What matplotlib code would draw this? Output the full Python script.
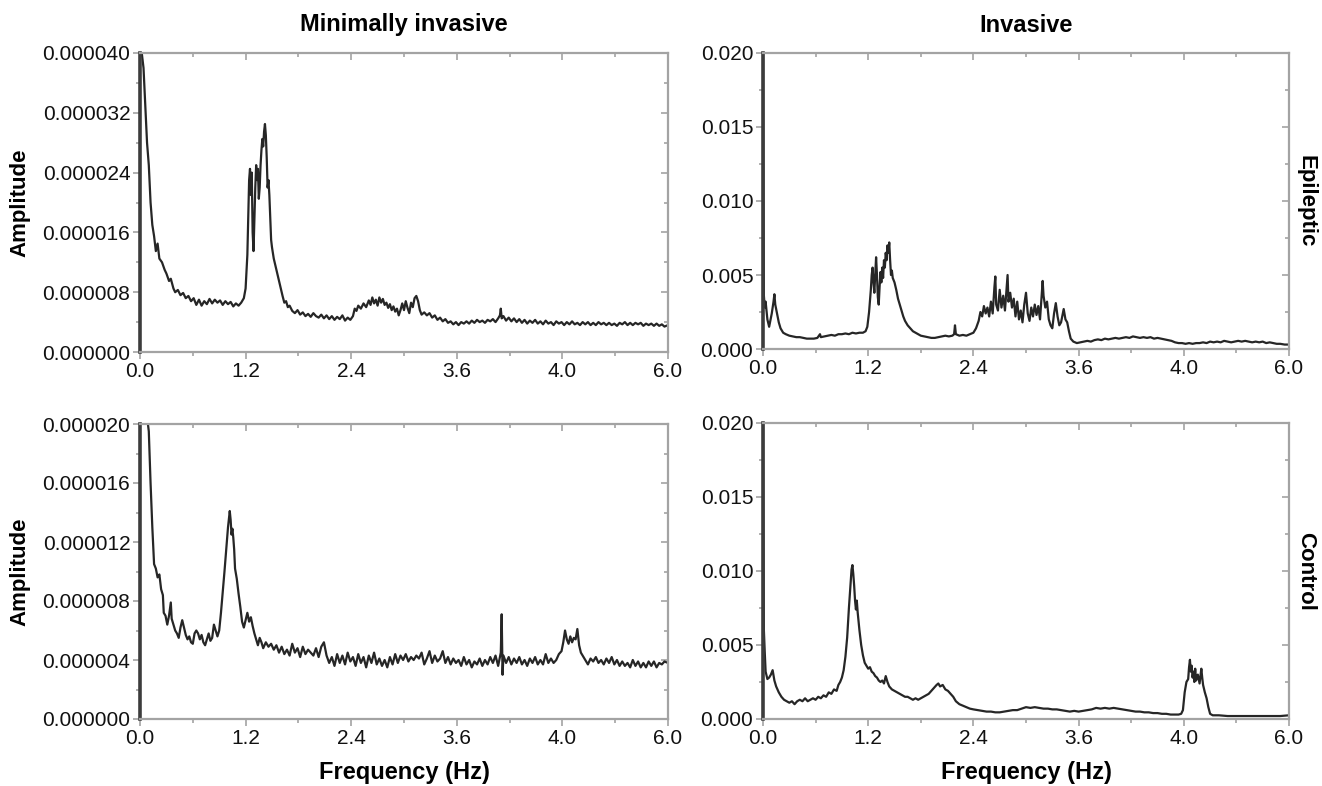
import matplotlib
matplotlib.use("Agg")
import matplotlib.pyplot as plt
import numpy as np
from matplotlib.ticker import FormatStrFormatter

plt.rcParams["font.family"] = ["Liberation Sans", "DejaVu Sans"]

# x tick positions / labels as printed on the original figure
X_TICKS = [0.0, 1.2, 2.4, 3.6, 4.8, 6.0]
X_TICK_LABELS = ["0.0", "1.2", "2.4", "3.6", "4.0", "6.0"]
X_MINOR = [0.6, 1.8, 3.0, 4.2, 5.4]

COL_TITLES = ["Minimally invasive", "Invasive"]
ROW_TITLES = ["Epileptic", "Control"]

# Minimally invasive, epileptic (amplitude x 1e-6)
mi_epi = [
    (0.00, 45), (0.02, 40), (0.04, 38), (0.06, 33), (0.08, 28), (0.10, 25), (0.12, 20), (0.14, 17),
    (0.16, 15.5), (0.18, 13.5), (0.20, 14.5), (0.22, 12.5), (0.25, 12.0), (0.28, 11.0), (0.30, 10.5),
    (0.33, 9.5), (0.35, 9.8), (0.38, 8.5), (0.40, 8.0), (0.43, 8.3), (0.46, 7.6), (0.49, 7.9), (0.52, 7.2),
    (0.55, 7.5), (0.58, 6.8), (0.61, 7.2), (0.64, 6.3), (0.67, 7.0), (0.70, 6.2), (0.73, 6.8), (0.76, 6.4),
    (0.79, 7.1), (0.82, 6.5), (0.85, 7.0), (0.88, 6.6), (0.91, 6.9), (0.94, 6.3), (0.97, 6.8), (1.00, 6.4),
    (1.03, 6.7), (1.06, 6.1), (1.09, 6.5), (1.12, 6.2), (1.15, 6.6), (1.18, 7.2), (1.20, 8.5), (1.22, 13),
    (1.23, 18), (1.24, 23), (1.25, 24.5), (1.26, 21), (1.27, 24), (1.28, 16), (1.29, 13.5), (1.30, 18),
    (1.31, 22), (1.32, 25), (1.33, 23), (1.34, 24.5), (1.35, 20.5), (1.36, 22), (1.37, 25), (1.38, 27),
    (1.39, 28.5), (1.40, 27.5), (1.41, 29.5), (1.42, 30.5), (1.43, 29), (1.44, 26), (1.45, 22), (1.46, 23),
    (1.47, 21), (1.48, 18), (1.49, 15), (1.50, 14), (1.52, 12.5), (1.54, 11.5), (1.56, 10.5), (1.58, 9.5),
    (1.60, 8.5), (1.62, 7.5), (1.64, 6.6), (1.66, 6.8), (1.68, 6.0), (1.70, 6.2), (1.73, 5.5), (1.76, 5.2),
    (1.79, 5.6), (1.82, 5.0), (1.85, 5.3), (1.88, 4.8), (1.91, 5.1), (1.94, 4.7), (1.97, 5.2), (2.00, 4.8),
    (2.03, 4.6), (2.06, 5.0), (2.09, 4.5), (2.12, 4.9), (2.15, 4.4), (2.18, 4.8), (2.21, 4.3), (2.24, 4.7),
    (2.27, 4.4), (2.30, 4.9), (2.33, 4.2), (2.36, 4.6), (2.39, 4.3), (2.42, 4.8), (2.44, 5.8), (2.46, 5.5),
    (2.48, 6.2), (2.51, 5.8), (2.54, 6.5), (2.57, 6.0), (2.60, 6.9), (2.62, 6.3), (2.64, 7.3), (2.66, 6.5),
    (2.68, 7.0), (2.70, 6.2), (2.72, 7.3), (2.74, 6.6), (2.76, 7.1), (2.78, 6.3), (2.80, 6.6), (2.82, 5.9),
    (2.84, 6.4), (2.86, 5.6), (2.88, 6.1), (2.90, 5.4), (2.92, 5.8), (2.94, 4.9), (2.96, 5.6), (2.98, 6.5),
    (3.00, 5.6), (3.02, 6.8), (3.04, 5.9), (3.06, 5.2), (3.08, 6.6), (3.10, 6.0), (3.12, 7.2), (3.14, 7.5),
    (3.16, 6.8), (3.18, 5.6), (3.20, 5.0), (3.23, 5.3), (3.26, 4.9), (3.29, 5.2), (3.32, 4.6), (3.35, 4.9),
    (3.38, 4.3), (3.41, 4.6), (3.44, 4.1), (3.47, 4.4), (3.50, 3.9), (3.53, 4.1), (3.56, 3.7), (3.59, 4.0),
    (3.62, 3.6), (3.65, 4.0), (3.68, 3.8), (3.71, 4.1), (3.74, 3.8), (3.77, 4.2), (3.80, 3.9), (3.83, 4.3),
    (3.86, 4.0), (3.89, 4.2), (3.92, 3.9), (3.95, 4.3), (3.98, 4.1), (4.01, 4.4), (4.04, 4.0), (4.07, 4.5),
    (4.09, 4.9), (4.10, 5.8), (4.11, 4.5), (4.13, 4.8), (4.16, 4.2), (4.19, 4.6), (4.22, 4.1), (4.25, 4.5),
    (4.28, 4.0), (4.31, 4.4), (4.34, 3.9), (4.37, 4.3), (4.40, 3.8), (4.43, 4.2), (4.46, 3.9), (4.49, 4.3),
    (4.52, 3.8), (4.55, 4.1), (4.58, 3.7), (4.61, 4.2), (4.64, 3.8), (4.67, 4.0), (4.70, 3.6), (4.73, 4.1),
    (4.76, 3.8), (4.79, 4.0), (4.82, 3.6), (4.85, 4.0), (4.88, 3.7), (4.91, 4.1), (4.94, 3.7), (4.97, 3.9),
    (5.00, 3.6), (5.03, 4.0), (5.06, 3.7), (5.09, 4.0), (5.12, 3.6), (5.15, 3.9), (5.18, 3.6), (5.21, 4.0),
    (5.24, 3.7), (5.27, 3.9), (5.30, 3.6), (5.33, 3.9), (5.36, 3.6), (5.39, 3.8), (5.42, 3.5), (5.45, 3.9),
    (5.48, 3.7), (5.51, 4.0), (5.54, 3.6), (5.57, 3.9), (5.60, 3.6), (5.63, 3.9), (5.66, 3.7), (5.69, 3.9),
    (5.72, 3.5), (5.75, 3.8), (5.78, 3.6), (5.81, 3.8), (5.84, 3.5), (5.87, 3.8), (5.90, 3.5), (5.93, 3.7),
    (5.96, 3.4), (6.00, 3.6),
]

# Invasive, epileptic (amplitude x 1e-3)
inv_epi = [
    (0.00, 22), (0.01, 3.6), (0.02, 2.8), (0.03, 3.2), (0.05, 2.0), (0.07, 1.5), (0.08, 1.8), (0.10, 2.4),
    (0.12, 3.2), (0.13, 3.7), (0.14, 3.0), (0.16, 2.4), (0.18, 1.8), (0.20, 1.4), (0.23, 1.1), (0.26, 1.0),
    (0.30, 0.9), (0.34, 0.85), (0.38, 0.8), (0.42, 0.8), (0.46, 0.75), (0.50, 0.7), (0.54, 0.7), (0.58, 0.7),
    (0.62, 0.75), (0.65, 1.0), (0.66, 0.8), (0.70, 0.85), (0.74, 0.9), (0.78, 0.95), (0.82, 0.9), (0.86, 1.0),
    (0.90, 1.0), (0.94, 1.05), (0.98, 1.0), (1.02, 1.1), (1.06, 1.05), (1.10, 1.1), (1.14, 1.1), (1.17, 1.2),
    (1.19, 1.5), (1.21, 2.5), (1.23, 4.0), (1.24, 5.0), (1.25, 5.5), (1.26, 4.5), (1.27, 3.8), (1.28, 5.0),
    (1.29, 6.2), (1.30, 5.0), (1.31, 3.5), (1.32, 3.0), (1.33, 4.2), (1.34, 5.2), (1.35, 4.5), (1.36, 5.5),
    (1.37, 4.8), (1.38, 6.0), (1.39, 5.5), (1.40, 6.5), (1.41, 6.0), (1.42, 7.0), (1.43, 6.5), (1.44, 7.2),
    (1.45, 6.0), (1.46, 5.0), (1.47, 5.3), (1.48, 4.8), (1.50, 4.5), (1.52, 4.0), (1.54, 3.4), (1.56, 3.0),
    (1.58, 2.6), (1.60, 2.2), (1.62, 1.9), (1.65, 1.6), (1.68, 1.4), (1.71, 1.2), (1.74, 1.1), (1.77, 1.0),
    (1.80, 0.9), (1.84, 0.85), (1.88, 0.8), (1.92, 0.75), (1.96, 0.75), (2.00, 0.8), (2.04, 0.85), (2.08, 0.9),
    (2.12, 0.85), (2.16, 0.9), (2.18, 1.0), (2.19, 1.6), (2.20, 1.0), (2.24, 0.9), (2.28, 0.95), (2.32, 0.9),
    (2.36, 1.0), (2.40, 1.1), (2.43, 1.4), (2.46, 1.9), (2.48, 2.5), (2.50, 2.2), (2.52, 2.9), (2.54, 2.4),
    (2.56, 2.8), (2.58, 2.2), (2.60, 3.2), (2.62, 2.4), (2.64, 4.2), (2.65, 4.9), (2.66, 3.0), (2.68, 2.6),
    (2.70, 4.0), (2.72, 2.8), (2.74, 3.6), (2.76, 2.6), (2.78, 4.2), (2.79, 5.0), (2.80, 3.2), (2.82, 3.8),
    (2.84, 2.8), (2.86, 3.4), (2.88, 2.2), (2.90, 3.2), (2.92, 2.0), (2.94, 2.6), (2.96, 1.8), (2.98, 3.0),
    (3.00, 3.8), (3.02, 2.4), (3.04, 1.9), (3.06, 2.8), (3.08, 2.2), (3.10, 3.0), (3.12, 2.3), (3.14, 2.9),
    (3.16, 2.0), (3.18, 3.8), (3.19, 4.6), (3.20, 3.6), (3.22, 2.8), (3.24, 3.2), (3.26, 2.0), (3.28, 1.6),
    (3.30, 1.4), (3.32, 2.4), (3.34, 3.1), (3.36, 2.2), (3.38, 1.6), (3.40, 1.8), (3.42, 2.4), (3.43, 2.7),
    (3.45, 2.0), (3.47, 1.8), (3.49, 1.2), (3.51, 0.7), (3.54, 0.5), (3.58, 0.4), (3.62, 0.45), (3.66, 0.5),
    (3.70, 0.55), (3.74, 0.5), (3.78, 0.6), (3.82, 0.65), (3.86, 0.6), (3.90, 0.7), (3.94, 0.65), (3.98, 0.7),
    (4.02, 0.75), (4.06, 0.7), (4.10, 0.75), (4.14, 0.8), (4.18, 0.75), (4.22, 0.85), (4.26, 0.8), (4.30, 0.75),
    (4.34, 0.8), (4.38, 0.75), (4.42, 0.8), (4.46, 0.7), (4.50, 0.75), (4.54, 0.7), (4.58, 0.65), (4.62, 0.6),
    (4.66, 0.55), (4.70, 0.45), (4.74, 0.4), (4.78, 0.4), (4.82, 0.35), (4.86, 0.4), (4.90, 0.35), (4.94, 0.4),
    (4.98, 0.4), (5.02, 0.45), (5.06, 0.4), (5.10, 0.5), (5.14, 0.45), (5.18, 0.5), (5.22, 0.45), (5.26, 0.55),
    (5.30, 0.5), (5.34, 0.45), (5.38, 0.5), (5.42, 0.55), (5.46, 0.5), (5.50, 0.55), (5.54, 0.5), (5.58, 0.45),
    (5.62, 0.5), (5.66, 0.45), (5.70, 0.5), (5.74, 0.4), (5.78, 0.45), (5.82, 0.4), (5.86, 0.35), (5.90, 0.35),
    (5.95, 0.3), (6.00, 0.3),
]

# Minimally invasive, control (amplitude x 1e-6)
mi_ctl = [
    (0.00, 22), (0.05, 21), (0.08, 20.5), (0.10, 19.5), (0.12, 16), (0.14, 13), (0.16, 10.5), (0.18, 10.2),
    (0.20, 9.6), (0.22, 9.8), (0.24, 8.8), (0.26, 8.4), (0.27, 7.2), (0.29, 7.0), (0.31, 6.4), (0.33, 7.0),
    (0.35, 7.9), (0.36, 6.8), (0.38, 6.4), (0.40, 6.0), (0.42, 5.8), (0.44, 5.5), (0.46, 6.2), (0.48, 6.7),
    (0.50, 6.2), (0.52, 5.7), (0.54, 5.4), (0.56, 5.6), (0.58, 5.2), (0.60, 5.1), (0.62, 5.8), (0.64, 6.0),
    (0.66, 5.8), (0.68, 5.4), (0.70, 5.7), (0.72, 5.2), (0.74, 5.0), (0.76, 5.4), (0.78, 5.8), (0.80, 5.3),
    (0.82, 5.5), (0.84, 6.4), (0.86, 6.0), (0.88, 5.6), (0.90, 6.0), (0.92, 7.2), (0.94, 8.6), (0.96, 10.0),
    (0.98, 11.5), (1.00, 13.0), (1.02, 14.1), (1.03, 13.5), (1.04, 12.5), (1.05, 12.9), (1.06, 12.3),
    (1.07, 11.5), (1.08, 10.2), (1.10, 9.5), (1.12, 8.5), (1.14, 7.6), (1.16, 6.6), (1.18, 6.2), (1.20, 6.7),
    (1.22, 7.2), (1.24, 6.6), (1.26, 6.9), (1.28, 6.3), (1.30, 5.8), (1.32, 5.4), (1.34, 5.0), (1.36, 5.5),
    (1.38, 5.2), (1.40, 4.8), (1.43, 5.2), (1.46, 4.9), (1.49, 5.1), (1.52, 4.7), (1.55, 5.0), (1.58, 4.5),
    (1.61, 4.9), (1.64, 4.4), (1.67, 4.7), (1.70, 4.3), (1.73, 5.1), (1.76, 4.5), (1.79, 4.8), (1.82, 4.2),
    (1.85, 4.9), (1.88, 4.4), (1.91, 4.7), (1.94, 4.5), (1.97, 4.3), (2.00, 4.8), (2.03, 4.2), (2.06, 4.9),
    (2.09, 5.2), (2.12, 4.3), (2.15, 3.8), (2.18, 4.2), (2.21, 3.6), (2.24, 4.4), (2.27, 3.8), (2.30, 4.3),
    (2.33, 3.7), (2.36, 4.5), (2.39, 3.9), (2.42, 4.2), (2.45, 3.6), (2.48, 4.4), (2.51, 3.8), (2.54, 4.2),
    (2.57, 3.5), (2.60, 4.3), (2.63, 3.8), (2.66, 4.5), (2.69, 3.7), (2.72, 4.1), (2.75, 3.6), (2.78, 4.0),
    (2.81, 3.5), (2.84, 4.2), (2.87, 3.7), (2.90, 4.4), (2.93, 3.8), (2.96, 4.3), (2.99, 4.0), (3.02, 4.4),
    (3.05, 3.9), (3.08, 4.2), (3.11, 4.0), (3.14, 4.3), (3.17, 4.1), (3.20, 4.5), (3.23, 3.7), (3.26, 4.1),
    (3.29, 4.6), (3.32, 3.8), (3.35, 4.3), (3.38, 3.9), (3.41, 4.1), (3.44, 4.6), (3.47, 3.8), (3.50, 4.2),
    (3.53, 3.7), (3.56, 4.1), (3.59, 3.8), (3.62, 4.0), (3.65, 3.6), (3.68, 4.2), (3.71, 3.7), (3.74, 4.0),
    (3.77, 3.5), (3.80, 3.9), (3.83, 3.7), (3.86, 4.1), (3.89, 3.6), (3.92, 4.0), (3.95, 3.7), (3.98, 4.2),
    (4.01, 3.8), (4.04, 4.3), (4.07, 3.6), (4.10, 4.5), (4.11, 7.1), (4.12, 3.0), (4.13, 4.3), (4.16, 3.8),
    (4.19, 4.2), (4.22, 3.7), (4.25, 4.1), (4.28, 3.8), (4.31, 4.2), (4.34, 3.7), (4.37, 4.0), (4.40, 3.6),
    (4.43, 4.1), (4.46, 3.8), (4.49, 4.2), (4.52, 3.7), (4.55, 4.0), (4.58, 3.7), (4.61, 4.4), (4.64, 3.8),
    (4.67, 4.1), (4.70, 3.8), (4.73, 4.0), (4.76, 4.4), (4.79, 4.6), (4.81, 5.2), (4.83, 6.0), (4.85, 5.4),
    (4.87, 5.1), (4.89, 5.6), (4.91, 5.2), (4.93, 5.5), (4.95, 5.4), (4.97, 6.1), (4.99, 5.0), (5.01, 4.5),
    (5.03, 4.3), (5.06, 4.0), (5.09, 3.7), (5.12, 4.1), (5.15, 3.9), (5.18, 4.2), (5.21, 3.8), (5.24, 4.0),
    (5.27, 3.7), (5.30, 4.1), (5.33, 3.8), (5.36, 4.2), (5.39, 3.7), (5.42, 4.0), (5.45, 3.6), (5.48, 3.9),
    (5.51, 3.6), (5.54, 3.8), (5.57, 3.5), (5.60, 4.0), (5.63, 3.6), (5.66, 3.9), (5.69, 3.5), (5.72, 3.8),
    (5.75, 3.5), (5.78, 3.9), (5.81, 3.6), (5.84, 3.9), (5.87, 3.5), (5.90, 3.8), (5.93, 3.7), (5.96, 3.9),
    (6.00, 3.8),
]

# Invasive, control (amplitude x 1e-3)
inv_ctl = [
    (0.00, 22), (0.01, 6.0), (0.02, 4.5), (0.03, 3.2), (0.05, 2.7), (0.07, 2.8), (0.09, 3.0), (0.11, 3.3),
    (0.13, 2.6), (0.15, 2.2), (0.18, 1.8), (0.21, 1.5), (0.24, 1.3), (0.27, 1.2), (0.30, 1.1), (0.33, 1.2),
    (0.36, 1.0), (0.39, 1.2), (0.42, 1.3), (0.45, 1.2), (0.48, 1.4), (0.51, 1.2), (0.54, 1.3), (0.57, 1.4),
    (0.60, 1.3), (0.63, 1.5), (0.66, 1.4), (0.69, 1.6), (0.72, 1.5), (0.75, 1.8), (0.78, 1.7), (0.81, 2.0),
    (0.84, 1.9), (0.86, 2.3), (0.88, 2.5), (0.90, 2.8), (0.92, 3.3), (0.94, 4.2), (0.96, 5.5), (0.98, 7.5),
    (1.00, 9.3), (1.01, 10.1), (1.02, 10.4), (1.03, 9.8), (1.04, 9.0), (1.05, 8.0), (1.06, 7.4), (1.07, 8.0),
    (1.08, 7.2), (1.10, 6.0), (1.12, 5.0), (1.14, 4.3), (1.16, 3.8), (1.18, 3.6), (1.20, 3.4), (1.22, 3.5),
    (1.24, 3.2), (1.26, 3.1), (1.28, 2.9), (1.30, 2.8), (1.32, 2.6), (1.34, 2.5), (1.36, 2.6), (1.38, 2.4),
    (1.40, 2.9), (1.42, 2.5), (1.44, 2.2), (1.47, 2.0), (1.50, 1.9), (1.53, 1.8), (1.56, 1.7), (1.59, 1.6),
    (1.62, 1.5), (1.65, 1.5), (1.68, 1.4), (1.71, 1.3), (1.74, 1.4), (1.77, 1.3), (1.80, 1.4), (1.83, 1.5),
    (1.86, 1.6), (1.89, 1.7), (1.92, 1.9), (1.95, 2.1), (1.98, 2.3), (2.00, 2.4), (2.02, 2.2), (2.05, 2.3),
    (2.08, 2.0), (2.11, 1.9), (2.14, 1.7), (2.17, 1.5), (2.20, 1.2), (2.24, 1.0), (2.28, 0.9), (2.32, 0.8),
    (2.36, 0.7), (2.40, 0.65), (2.45, 0.6), (2.50, 0.55), (2.55, 0.5), (2.60, 0.5), (2.65, 0.45), (2.70, 0.45),
    (2.75, 0.5), (2.80, 0.55), (2.85, 0.6), (2.90, 0.6), (2.95, 0.7), (3.00, 0.8), (3.05, 0.75), (3.10, 0.8),
    (3.15, 0.75), (3.20, 0.7), (3.25, 0.7), (3.30, 0.65), (3.35, 0.65), (3.40, 0.6), (3.45, 0.55), (3.50, 0.5),
    (3.55, 0.55), (3.60, 0.5), (3.65, 0.55), (3.70, 0.6), (3.75, 0.65), (3.80, 0.75), (3.85, 0.7), (3.90, 0.75),
    (3.95, 0.7), (4.00, 0.75), (4.05, 0.7), (4.10, 0.65), (4.15, 0.6), (4.20, 0.55), (4.25, 0.5), (4.30, 0.5),
    (4.35, 0.45), (4.40, 0.45), (4.45, 0.4), (4.50, 0.4), (4.55, 0.35), (4.60, 0.35), (4.65, 0.3), (4.70, 0.3),
    (4.74, 0.3), (4.77, 0.35), (4.79, 0.6), (4.81, 1.8), (4.83, 2.5), (4.85, 2.7), (4.86, 3.5), (4.87, 4.0),
    (4.88, 3.2), (4.89, 3.6), (4.90, 2.8), (4.91, 3.2), (4.92, 2.5), (4.93, 3.4), (4.94, 2.6), (4.96, 3.0),
    (4.98, 2.4), (5.00, 3.4), (5.01, 2.8), (5.02, 2.3), (5.04, 1.8), (5.06, 1.4), (5.08, 0.8), (5.10, 0.35),
    (5.13, 0.25), (5.20, 0.25), (5.30, 0.2), (5.40, 0.2), (5.50, 0.2), (5.60, 0.2), (5.70, 0.2), (5.80, 0.2),
    (5.90, 0.2), (6.00, 0.25),
]

PANELS = [
    # data, scale, y max, y step, tick format
    (mi_epi, 1e-6, 0.000040, 0.000008, "%.6f"),
    (inv_epi, 1e-3, 0.020, 0.005, "%.3f"),
    (mi_ctl, 1e-6, 0.000020, 0.000004, "%.6f"),
    (inv_ctl, 1e-3, 0.020, 0.005, "%.3f"),
]

W, H = 1322, 786
# axes boxes in pixels: left, right, top, bottom
BOXES = [(140, 668, 53, 352), (763, 1289, 53, 349),
         (140, 668, 424, 719), (763, 1289, 423, 719)]

SPINE = "#a3a3a3"
LINE = "#262626"

fig = plt.figure(figsize=(W / 100, H / 100), dpi=100)

axes = []
for (data, scale, ymax, ystep, fmt), (l, r, t, b) in zip(PANELS, BOXES):
    ax = fig.add_axes([l / W, 1 - b / H, (r - l) / W, (b - t) / H])
    freq, amp = zip(*data)
    ax.plot(freq, np.array(amp) * scale, color=LINE, lw=1.6, solid_joinstyle="round")
    ax.set_xlim(0, 6.0)
    ax.set_ylim(0, ymax)

    yt = np.arange(0, ymax + ystep / 2, ystep)
    ax.set_xticks(X_TICKS)
    ax.set_xticklabels(X_TICK_LABELS)
    ax.set_xticks(X_MINOR, minor=True)
    ax.set_yticks(yt)
    ax.set_yticks(yt[:-1] + ystep / 2, minor=True)
    ax.yaxis.set_major_formatter(FormatStrFormatter(fmt))
    ax.tick_params(which="both", direction="out", color=SPINE, width=1.2,
                   labelsize=15, labelcolor="#111111", pad=2)
    ax.tick_params(which="major", length=5)
    ax.tick_params(which="minor", length=3)

    # inward ticks on top and right
    sx = ax.secondary_xaxis("top")
    sx.set_xticks(X_TICKS)
    sx.set_xticks(X_MINOR, minor=True)
    sx.tick_params(which="both", direction="in", color=SPINE, width=1.2, labeltop=False)
    sx.tick_params(which="major", length=5)
    sx.tick_params(which="minor", length=3)
    sy = ax.secondary_yaxis("right")
    sy.set_yticks(yt)
    sy.set_yticks(yt[:-1] + ystep / 2, minor=True)
    sy.tick_params(which="both", direction="in", color=SPINE, width=1.2, labelright=False)
    sy.tick_params(which="major", length=5)
    sy.tick_params(which="minor", length=3)
    for sec in (sx, sy):
        for s in sec.spines.values():
            s.set_visible(False)

    for side in ("top", "right", "bottom"):
        ax.spines[side].set_color(SPINE)
        ax.spines[side].set_linewidth(1.6)
    ax.spines["left"].set_color("#3c3c3c")
    ax.spines["left"].set_linewidth(2.6)
    axes.append(ax)

# column titles, row titles, axis labels
for (l, r, t, b), title in zip(BOXES[:2], COL_TITLES):
    fig.text((l + r) / 2 / W, 1 - 25 / H, title, ha="center", va="center",
             fontsize=17, fontweight="bold")
for (l, r, t, b), lab in zip(BOXES[2:], ["Frequency (Hz)"] * 2):
    fig.text((l + r) / 2 / W, 1 - 772 / H, lab, ha="center", va="center",
             fontsize=17, fontweight="bold")
for (l, r, t, b) in (BOXES[0], BOXES[2]):
    fig.text(20 / W, 1 - (t + b) / 2 / H, "Amplitude", ha="center", va="center",
             rotation=90, fontsize=16, fontweight="bold")
for (l, r, t, b), lab in zip((BOXES[1], BOXES[3]), ROW_TITLES):
    fig.text(1306 / W, 1 - (t + b) / 2 / H, lab, ha="center", va="center",
             rotation=270, fontsize=16, fontweight="bold")

fig.savefig("out.png", dpi=100)
